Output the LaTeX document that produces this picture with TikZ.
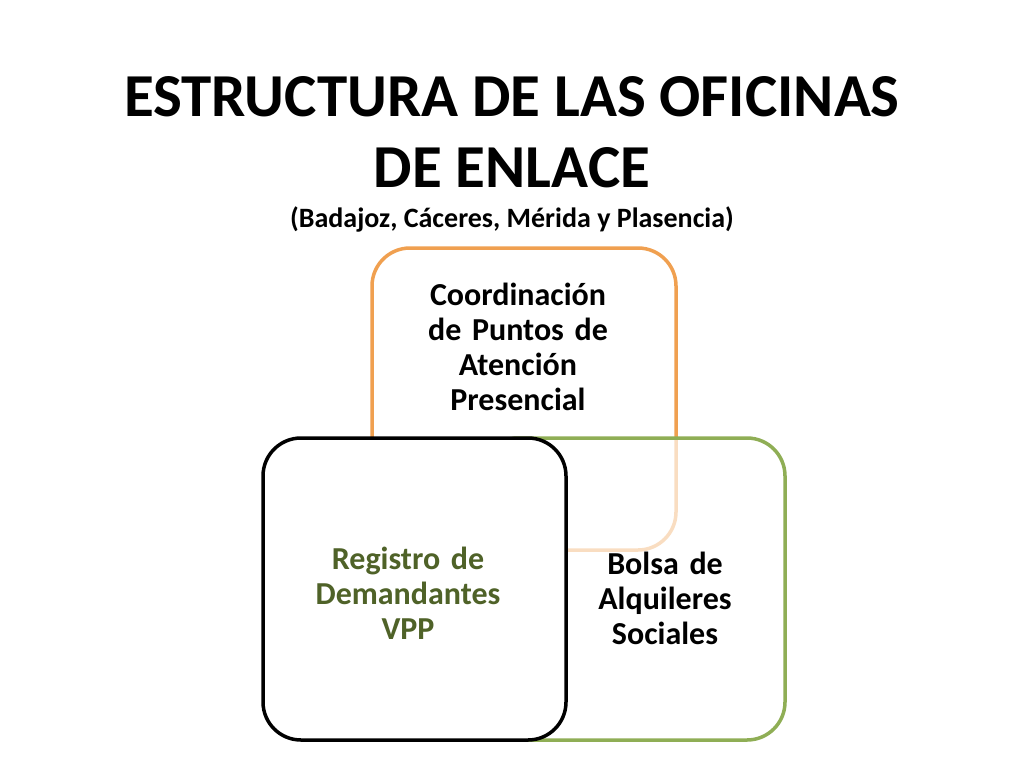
\documentclass[tikz,border=0pt]{standalone}
\usepackage{fontspec}
\setmainfont{Carlito}
\begin{document}
\begin{tikzpicture}[x=1pt,y=-1pt,
  box/.style={rounded corners=38pt,line width=3.5pt},
  lbl/.style={font=\bfseries\fontsize{32}{35}\selectfont,align=center,text width=240pt}]
\useasboundingbox (0,0) rectangle (1024,768);
\definecolor{orng}{HTML}{F0A050}
\definecolor{grn}{HTML}{8FAE55}
\definecolor{dgrn}{HTML}{4F6228}
\node[font=\bfseries\fontsize{61}{71}\selectfont,align=center] (t) at (512,132) {ESTRUCTURA DE LAS OFICINAS\\DE ENLACE};
\node[font=\bfseries\fontsize{28}{32}\selectfont] (s) at (512,219) {(Badajoz, Cáceres, Mérida y Plasencia)};
\draw[box,draw=orng,fill=white] (372,248) rectangle (676,550);
\fill[white,opacity=0.65,rounded corners=38pt] (480,438) rectangle (785,740);
\draw[box,draw=grn] (480,438) rectangle (785,740);
\draw[box,draw=black,fill=white] (263,438) rectangle (566,740);
\node[lbl] (a) at (518,347) {Coordinación\\de Puntos de\\Atención\\Presencial};
\node[lbl] (b) at (665,598) {Bolsa de\\Alquileres\\Sociales};
\node[lbl,text=dgrn] (c) at (408,593) {Registro de\\Demandantes\\VPP};
\end{tikzpicture}
\end{document}
